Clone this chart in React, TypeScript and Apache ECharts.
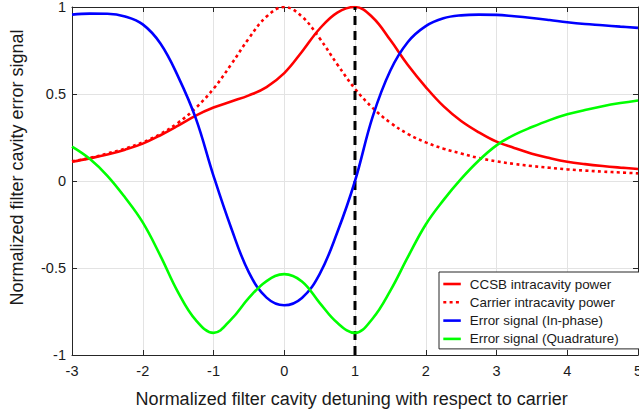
import React, { useEffect, useRef } from "react";
import * as echarts from "echarts";

const detuning = [
  -3, -2.75, -2.5, -2.25, -2, -1.75, -1.5, -1.25, -1, -0.75, -0.5, -0.25, 0,
  0.25, 0.5, 0.75, 1, 1.25, 1.5, 1.75, 2, 2.25, 2.5, 2.75, 3, 3.25, 3.5, 3.75,
  4, 4.25, 4.5, 4.75, 5,
];

const ccsbPower = [
  0.111, 0.13, 0.152, 0.18, 0.215, 0.263, 0.318, 0.376, 0.422, 0.457, 0.492,
  0.54, 0.62, 0.743, 0.875, 0.968, 1.0, 0.94, 0.81, 0.665, 0.54, 0.43, 0.345,
  0.28, 0.226, 0.19, 0.157, 0.132, 0.111, 0.097, 0.086, 0.077, 0.069,
];

const carrierPower = [
  0.113, 0.132, 0.158, 0.186, 0.222, 0.27, 0.335, 0.42, 0.53, 0.67, 0.82,
  0.945, 1.0, 0.945, 0.82, 0.67, 0.53, 0.42, 0.335, 0.27, 0.222, 0.186, 0.158,
  0.132, 0.113, 0.098, 0.086, 0.076, 0.067, 0.06, 0.054, 0.049, 0.044,
];

const inPhase = [
  0.956, 0.962, 0.961, 0.945, 0.9, 0.79, 0.6, 0.36, 0.03, -0.27, -0.525,
  -0.67, -0.714, -0.672, -0.535, -0.295, 0.0, 0.37, 0.635, 0.8, 0.89, 0.935,
  0.952, 0.956, 0.955, 0.947, 0.937, 0.925, 0.912, 0.902, 0.895, 0.887, 0.88,
];

const quadrature = [
  0.198, 0.128, 0.03, -0.095, -0.238, -0.43, -0.64, -0.8, -0.873, -0.795,
  -0.672, -0.575, -0.535, -0.577, -0.7, -0.815, -0.873, -0.79, -0.63, -0.435,
  -0.25, -0.11, 0.012, 0.118, 0.205, 0.265, 0.31, 0.35, 0.383, 0.408, 0.43,
  0.448, 0.463,
];

const markerX = [1, 1];
const markerY = [-1, 1];

const seriesNames = [
  "CCSB intracavity power",
  "Carrier intracavity power",
  "Error signal (In-phase)",
  "Error signal (Quadrature)",
];

const xTitle = "Normalized filter cavity detuning with respect to carrier";
const yTitle = "Normalized filter cavity error signal";

const FONT = "'Liberation Sans', Arial, Helvetica, sans-serif";
const DOTS = [3, 3.3];

const pairs = (ys: number[]) => detuning.map((x, i) => [x, ys[i]]);

export default function App() {
  const ref = useRef<HTMLDivElement>(null);
  useEffect(() => {
    if (!ref.current) return;
    const chart = echarts.init(ref.current, undefined, { renderer: "svg" });
    const axisLineStyle = { color: "#262626", width: 1 };
    const baseX = {
      type: "value",
      min: -3,
      max: 5,
      interval: 1,
      axisLine: { show: true, onZero: false, lineStyle: axisLineStyle },
      axisTick: { show: true, inside: true, length: 5, lineStyle: axisLineStyle },
    };
    const baseY = {
      type: "value",
      min: -1,
      max: 1,
      interval: 0.5,
      axisLine: { show: true, onZero: false, lineStyle: axisLineStyle },
      axisTick: { show: true, inside: true, length: 5, lineStyle: axisLineStyle },
    };
    const lineSeries = (name: string, ys: number[], color: string, type: any, z: number) => ({
      name,
      type: "line",
      data: pairs(ys),
      smooth: 0.4,
      symbol: "none",
      showSymbol: false,
      z,
      lineStyle: { color, width: 2.6, type, cap: "butt" },
      itemStyle: { color },
    });
    chart.setOption({
      animation: false,
      backgroundColor: "#ffffff",
      grid: { left: 72, right: 1, top: 7, bottom: 62, containLabel: false, outerBoundsMode: "none" },
      xAxis: [
        {
          ...baseX,
          position: "bottom",
          axisLabel: {
            show: true,
            margin: 8,
            color: "#1a1a1a",
            fontSize: 14.5,
            fontFamily: FONT,
            showMinLabel: true,
            showMaxLabel: true,
            hideOverlap: false,
          },
          splitLine: { show: true, lineStyle: { color: "#e3e3e3", width: 1 } },
        },
        {
          ...baseX,
          position: "top",
          axisLabel: { show: false },
          splitLine: { show: false },
        },
      ],
      yAxis: [
        {
          ...baseY,
          position: "left",
          axisLabel: {
            show: true,
            margin: 6,
            color: "#1a1a1a",
            fontSize: 14.5,
            fontFamily: FONT,
            showMinLabel: true,
            showMaxLabel: true,
          },
          splitLine: { show: true, lineStyle: { color: "#e3e3e3", width: 1 } },
        },
        {
          ...baseY,
          position: "right",
          axisLabel: { show: false },
          splitLine: { show: false },
        },
      ],
      legend: {
        data: [
          { name: seriesNames[0], lineStyle: { color: "#ff0000", width: 2.6, type: "solid" } },
          { name: seriesNames[1], lineStyle: { color: "#ff0000", width: 2.6, type: DOTS } },
          { name: seriesNames[2], lineStyle: { color: "#0000ff", width: 2.6, type: "solid" } },
          { name: seriesNames[3], lineStyle: { color: "#00ff00", width: 2.6, type: "solid" } },
        ],
        orient: "vertical",
        left: 439,
        top: 272,
        padding: [5, 22, 3, 3],
        itemWidth: 17.5,
        itemHeight: 14,
        itemGap: 4.3,
        itemStyle: { opacity: 0 },
        backgroundColor: "#ffffff",
        borderColor: "#262626",
        borderWidth: 1,
        borderRadius: 0,
        textStyle: {
          fontSize: 13.4,
          fontFamily: FONT,
          color: "#1a1a1a",
          lineHeight: 14,
          padding: [0, 0, 0, 4],
        },
      },
      graphic: [
        {
          type: "text",
          x: 351.7,
          y: 398.5,
          style: {
            text: xTitle,
            fontSize: 18,
            fontFamily: FONT,
            fill: "#1a1a1a",
            textAlign: "center",
            textVerticalAlign: "middle",
          },
        },
        {
          type: "text",
          x: 16.5,
          y: 167.5,
          rotation: Math.PI / 2,
          style: {
            text: yTitle,
            fontSize: 18,
            fontFamily: FONT,
            fill: "#1a1a1a",
            textAlign: "center",
            textVerticalAlign: "middle",
          },
        },
      ],
      series: [
        lineSeries(seriesNames[0], ccsbPower, "#ff0000", "solid", 3),
        lineSeries(seriesNames[1], carrierPower, "#ff0000", DOTS, 3),
        {
          name: "detuning marker",
          type: "line",
          data: markerX.map((x, i) => [x, markerY[i]]),
          symbol: "none",
          z: 4,
          lineStyle: { color: "#000000", width: 3, type: [9, 6] },
        },
        lineSeries(seriesNames[2], inPhase, "#0000ff", "solid", 5),
        lineSeries(seriesNames[3], quadrature, "#00ff00", "solid", 5),
      ],
    });
    return () => chart.dispose();
  }, []);
  return (
    <div
      ref={ref}
      style={{ position: "absolute", left: 0, top: 0, width: 639, height: 417, background: "#fff" }}
    />
  );
}
